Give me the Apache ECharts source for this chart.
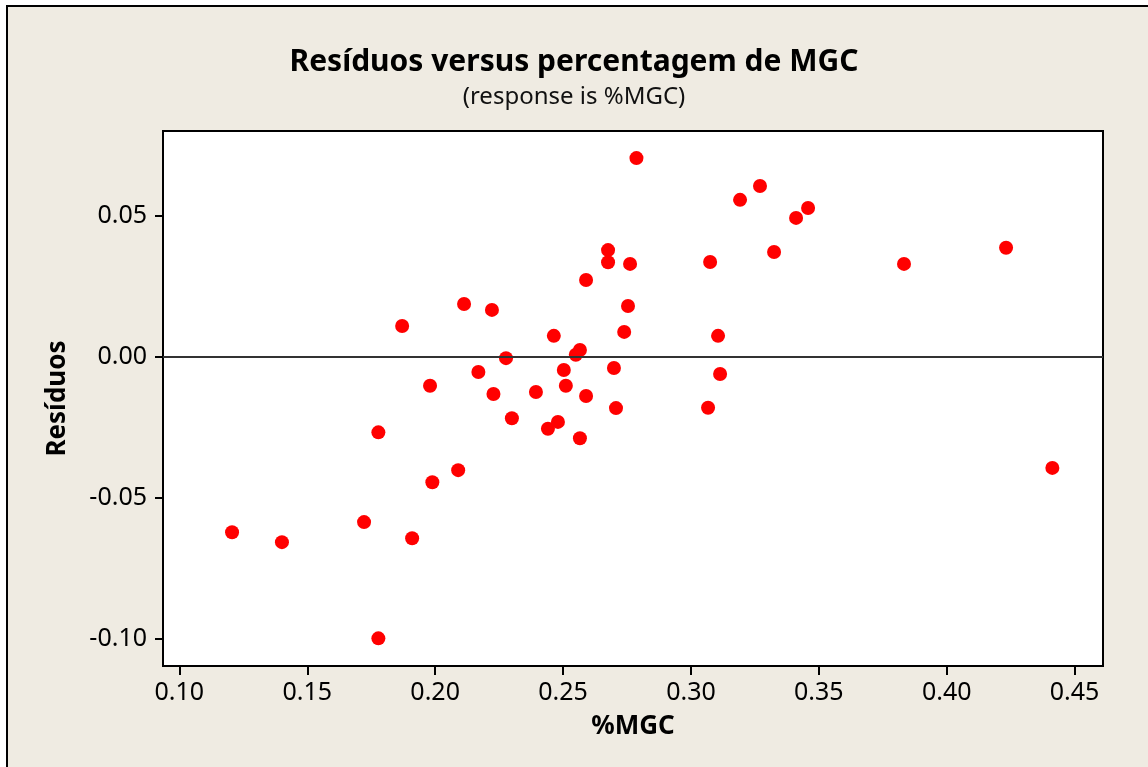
<!DOCTYPE html>
<html lang="pt">
<head>
    <meta charset="utf-8">
    <title>Resíduos versus percentagem de MGC</title>
    <script src="https://cdn.jsdelivr.net/npm/echarts@6/dist/echarts.min.js"></script>
    <style>
        html, body { margin: 0; padding: 0; background: #fff; }
    </style>
</head>
<body>
    <div id="main" style="width:1148px;height:767px;"></div>

    <script>
    // dados
    var pctMGC = [0.1206, 0.1401, 0.1722, 0.1778, 0.1778, 0.1871, 0.1910, 0.1980, 0.1989, 0.2090,
                  0.2113, 0.2169, 0.2222, 0.2228, 0.2277, 0.2300, 0.2394, 0.2441, 0.2464, 0.2480,
                  0.2503, 0.2511, 0.2550, 0.2566, 0.2566, 0.2590, 0.2590, 0.2676, 0.2676, 0.2699,
                  0.2707, 0.2739, 0.2754, 0.2762, 0.2787, 0.3067, 0.3075, 0.3106, 0.3114, 0.3192,
                  0.3270, 0.3325, 0.3411, 0.3458, 0.3833, 0.4232, 0.4413];
    var residuos = [-0.0622, -0.0657, -0.0586, -0.0268, -0.0998, 0.0109, -0.0643, -0.0103, -0.0445, -0.0402,
                    0.0187, -0.0054, 0.0166, -0.0132, -0.0005, -0.0218, -0.0125, -0.0255, 0.0074, -0.0231,
                    -0.0047, -0.0103, 0.0007, 0.0024, -0.0289, 0.0272, -0.0139, 0.0378, 0.0335, -0.0040,
                    -0.0182, 0.0088, 0.0180, 0.0329, 0.0704, -0.0181, 0.0336, 0.0074, -0.0061, 0.0556,
                    0.0605, 0.0371, 0.0492, 0.0527, 0.0329, 0.0386, -0.0394];
    var xTicks = [0.10, 0.15, 0.20, 0.25, 0.30, 0.35, 0.40, 0.45];
    var yTicks = [-0.10, -0.05, 0.00, 0.05];

    var pontos = pctMGC.map(function (v, i) { return [v, residuos[i]]; });

    var fonte = '"Noto Sans", "DejaVu Sans", sans-serif';

    var myChart = echarts.init(document.getElementById('main'));
    myChart.setOption({
        animation: false,
        textStyle: { fontFamily: fonte },
        graphic: [{
            type: 'rect', z: -10,
            shape: { x: 7, y: 6, width: 1160, height: 790 },
            style: { fill: '#efebe2', stroke: '#000', lineWidth: 2 }
        }],
        title: {
            text: 'Resíduos versus percentagem de MGC',
            subtext: '(response is %MGC)',
            left: 'center', top: 42, itemGap: 8,
            textStyle: { fontFamily: fonte, fontSize: 30, fontWeight: 'bold', color: '#000' },
            subtextStyle: { fontFamily: fonte, fontSize: 24, color: '#111' }
        },
        grid: {
            left: 163, right: 45, top: 131, bottom: 101,
            show: true, backgroundColor: '#fff', borderColor: '#000', borderWidth: 2
        },
        xAxis: {
            type: 'value', min: 0.0936, max: 0.4611,
            name: '%MGC', nameLocation: 'middle', nameGap: 48,
            nameTextStyle: { fontFamily: fonte, fontSize: 26, fontWeight: 'bold', color: '#000' },
            axisLine: { show: false, onZero: false },
            splitLine: { show: false },
            axisTick: { show: true, inside: false, length: 9, customValues: xTicks, lineStyle: { color: '#000', width: 2 } },
            axisLabel: { customValues: xTicks, margin: 14, fontSize: 25, color: '#000',
                formatter: function (v) { return v.toFixed(2); } }
        },
        yAxis: {
            type: 'value', min: -0.1096, max: 0.0800,
            name: 'Resíduos', nameLocation: 'middle', nameGap: 92,
            nameTextStyle: { fontFamily: fonte, fontSize: 26, fontWeight: 'bold', color: '#000' },
            axisLine: { show: false, onZero: false },
            splitLine: { show: false },
            axisTick: { show: true, inside: false, length: 8, customValues: yTicks, lineStyle: { color: '#000', width: 2 } },
            axisLabel: { customValues: yTicks, margin: 16, fontSize: 25, color: '#000',
                formatter: function (v) { return v.toFixed(2); } }
        },
        series: [{
            type: 'scatter',
            data: pontos,
            symbol: 'circle',
            symbolSize: 14,
            itemStyle: { color: '#ff0000', opacity: 1 },
            markLine: {
                silent: true, symbol: 'none',
                label: { show: false },
                lineStyle: { color: '#333', width: 2, type: 'solid' },
                data: [{ yAxis: 0 }]
            },
            z: 3
        }]
    });
    </script>
</body>
</html>
